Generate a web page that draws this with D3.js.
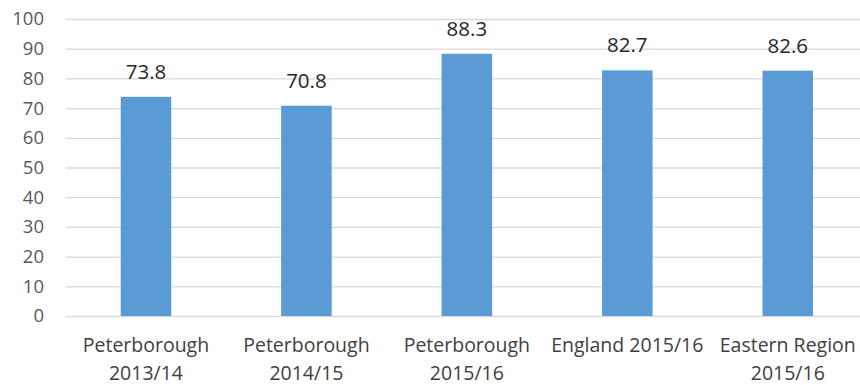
<!DOCTYPE html>
<html>
<head>
<meta charset="utf-8">
<script src="https://cdn.jsdelivr.net/npm/d3@7"></script>
<style>
  html, body { margin: 0; padding: 0; background: #fff; }
  #chart { width: 860px; height: 385px; }
  .grid line { stroke: #d9d9d9; stroke-width: 1.3; }
  .grid path { display: none; }
  .y-axis text { fill: #595959; font-family: "Open Sans", sans-serif; font-size: 18.5px; }
  .y-axis path, .y-axis line { display: none; }
  .cat-label { fill: #404040; font-family: "Open Sans", sans-serif; font-size: 19.5px; }
  .value-label { fill: #262626; font-family: "Open Sans", sans-serif; font-size: 20.5px; }
  .bar { fill: #5b9bd5; }
</style>
</head>
<body>
<div id="chart"></div>
<script>
const categories = ["P2013", "P2014", "P2015", "E2015", "ER2015"];
const values = [73.8, 70.8, 88.3, 82.7, 82.6];
const tickLabels = [
  ["Peterborough", "2013/14"],
  ["Peterborough", "2014/15"],
  ["Peterborough", "2015/16"],
  ["England 2015/16"],
  ["Eastern Region", "2015/16"]
];
const yTicks = [0, 10, 20, 30, 40, 50, 60, 70, 80, 90, 100];

const width = 860;
const height = 385;

const svg = d3.select("#chart")
  .append("svg")
  .attr("width", width)
  .attr("height", height);

const x = d3.scaleBand()
  .domain(categories)
  .range([65.75, 868])
  .paddingInner(0.685)
  .paddingOuter(0.3425);

const y = d3.scaleLinear()
  .domain([0, 100])
  .range([316, 19]);

// horizontal gridlines
svg.append("g")
  .attr("class", "grid")
  .attr("transform", "translate(66,0)")
  .call(d3.axisLeft(y).tickValues(yTicks).tickSize(-(width - 66)).tickFormat(""));

svg.append("g")
  .attr("class", "y-axis")
  .attr("transform", "translate(44,0)")
  .call(d3.axisLeft(y).tickValues(yTicks).tickSize(0).tickPadding(0));

const data = categories.map((c, i) => ({ cat: c, value: values[i], label: tickLabels[i] }));

svg.selectAll(".bar")
  .data(data)
  .join("rect")
  .attr("class", "bar")
  .attr("x", (d) => x(d.cat))
  .attr("width", x.bandwidth())
  .attr("y", (d) => y(d.value))
  .attr("height", (d) => y(0) - y(d.value));

svg.selectAll(".value-label")
  .data(data)
  .join("text")
  .attr("class", "value-label")
  .attr("text-anchor", "middle")
  .attr("x", (d) => x(d.cat) + x.bandwidth() / 2)
  .attr("y", (d) => y(d.value) - 18)
  .text((d) => d.value.toFixed(1));

const cats = svg.selectAll(".cat-label")
  .data(data)
  .join("text")
  .attr("class", "cat-label")
  .attr("text-anchor", "middle")
  .attr("x", (d) => x(d.cat) + x.bandwidth() / 2)
  .attr("y", 352);

cats.selectAll("tspan")
  .data((d) => d.label.map((t, i) => ({ t, i, cx: x(d.cat) + x.bandwidth() / 2 })))
  .join("tspan")
  .attr("x", (d) => d.cx)
  .attr("dy", (d) => (d.i === 0 ? 0 : 28))
  .text((d) => d.t);
</script>
</body>
</html>
